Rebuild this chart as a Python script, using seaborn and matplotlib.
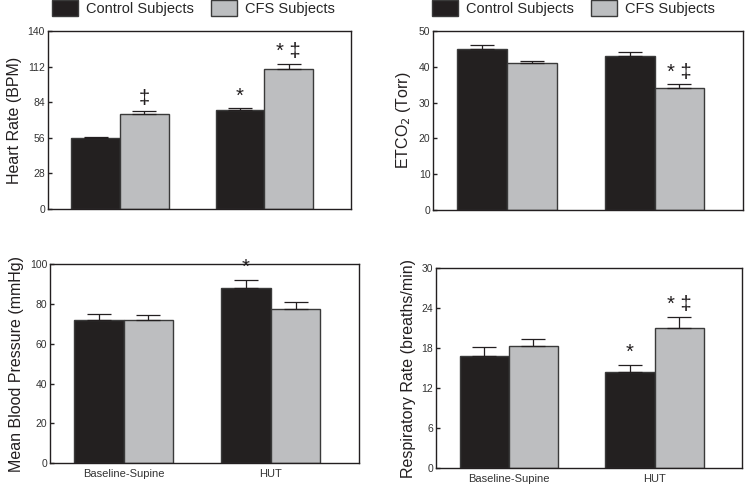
import seaborn as sns
import matplotlib.pyplot as plt
import matplotlib.patches as mpatches
import pandas as pd

# Conditions and groups
conditions = ['Baseline-Supine', 'HUT']
groups = ['Control Subjects', 'CFS Subjects']

# Heart rate (BPM): means and upper SE
hr_control = [55.5, 78.0]
hr_cfs = [75.1, 110.0]
hr_control_err = [1.5, 1.3]
hr_cfs_err = [2.1, 3.9]

# ETCO2 (Torr)
etco2_control = [45.1, 43.0]
etco2_cfs = [41.2, 34.1]
etco2_control_err = [0.9, 1.1]
etco2_cfs_err = [0.5, 1.0]

# Mean blood pressure (mmHg)
mbp_control = [72.0, 87.9]
mbp_cfs = [71.7, 77.7]
mbp_control_err = [3.2, 4.4]
mbp_cfs_err = [2.8, 3.2]

# Respiratory rate (breaths/min)
rr_control = [16.85, 14.35]
rr_cfs = [18.35, 21.05]
rr_control_err = [1.25, 1.15]
rr_cfs_err = [0.95, 1.6]

# Significance marks: (condition index, group index, text)
hr_marks = [(0, 1, '‡'), (1, 0, '*'), (1, 1, '* ‡')]
etco2_marks = [(1, 1, '* ‡')]
mbp_marks = [(1, 0, '*')]
rr_marks = [(1, 0, '*'), (1, 1, '* ‡')]

colors = {'Control Subjects': '#231f20', 'CFS Subjects': '#bcbec0'}
edge = '#3a3a3a'

sns.set_style("white")
plt.rcParams['font.family'] = ['Liberation Sans', 'DejaVu Sans']


def make_df(control, cfs):
    rows = []
    for i, c in enumerate(conditions):
        rows.append({'condition': c, 'group': groups[0], 'value': control[i]})
        rows.append({'condition': c, 'group': groups[1], 'value': cfs[i]})
    return pd.DataFrame(rows)


fig = plt.figure(figsize=(7.45, 4.86), dpi=100)

panels = [
    # rect, control, cfs, errs, marks, ylabel, ymax, yticks, show xlabels
    ([0.064, 0.570, 0.407, 0.366], hr_control, hr_cfs, (hr_control_err, hr_cfs_err),
     hr_marks, 'Heart Rate (BPM)', 140, [0, 28, 56, 84, 112, 140], False),
    ([0.5816, 0.568, 0.4157, 0.368], etco2_control, etco2_cfs, (etco2_control_err, etco2_cfs_err),
     etco2_marks, r'ETCO$_2$ (Torr)', 50, [0, 10, 20, 30, 40, 50], False),
    ([0.0671, 0.0473, 0.4148, 0.409], mbp_control, mbp_cfs, (mbp_control_err, mbp_cfs_err),
     mbp_marks, 'Mean Blood Pressure (mmHg)', 100, [0, 20, 40, 60, 80, 100], True),
    ([0.585, 0.037, 0.411, 0.4115], rr_control, rr_cfs, (rr_control_err, rr_cfs_err),
     rr_marks, 'Respiratory Rate (breaths/min)', 30, [0, 6, 12, 18, 24, 30], True),
]

for rect, ctrl, cfs, errs, marks, ylabel, ymax, yticks, show_x in panels:
    ax = fig.add_axes(rect)
    df = make_df(ctrl, cfs)
    sns.barplot(data=df, x='condition', y='value', hue='group', hue_order=groups,
                palette=colors, width=0.675, edgecolor=edge, linewidth=1.0,
                errorbar=None, legend=False, ax=ax)

    bar_containers = list(ax.containers)
    tops = {}
    for gi, cont in enumerate(bar_containers):
        for ci, bar in enumerate(cont.patches):
            x = bar.get_x() + bar.get_width() / 2
            y = bar.get_height()
            e = errs[gi][ci]
            ax.errorbar([x], [y], yerr=[[0], [e]], fmt='none', ecolor='#231f20',
                        elinewidth=0.9, capsize=8.6, capthick=0.9, zorder=3)
            tops[(ci, gi)] = (x, y + e)

    for ci, gi, txt in marks:
        x, y = tops[(ci, gi)]
        ax.annotate(txt, (x, y), xytext=(0, 2), textcoords='offset points',
                    ha='center', va='bottom', fontsize=14.5, color='#231f20')

    ax.set_xlim(-0.5, 1.6)
    ax.set_ylim(0, ymax)
    ax.set_yticks(yticks)
    ax.set_xlabel('')
    ax.set_ylabel(ylabel, fontsize=11.5, color='#231f20')
    ax.tick_params(axis='y', direction='in', length=3, width=1, labelsize=7.5,
                   colors='#231f20', labelcolor='#333333', pad=2, left=True)
    ax.tick_params(axis='x', length=0, labelsize=8, labelcolor='#333333', pad=4)
    if not show_x:
        ax.set_xticklabels([])
    for s in ax.spines.values():
        s.set_color('#231f20')
        s.set_linewidth(1.0)

    if not show_x:
        handles = [mpatches.Patch(facecolor=colors[g], edgecolor=edge, linewidth=1.0)
                   for g in groups]
        x0 = 52 / 745 if rect[0] < 0.5 else 432 / 745
        fig.legend(handles, groups, loc='upper left', bbox_to_anchor=(x0, 1.0),
                   ncol=2, frameon=False, fontsize=10.5, handlelength=1.8,
                   handleheight=1.3, handletextpad=0.55, columnspacing=1.17,
                   borderpad=0, borderaxespad=0)

fig.savefig('out.png', dpi=100, facecolor='white')
